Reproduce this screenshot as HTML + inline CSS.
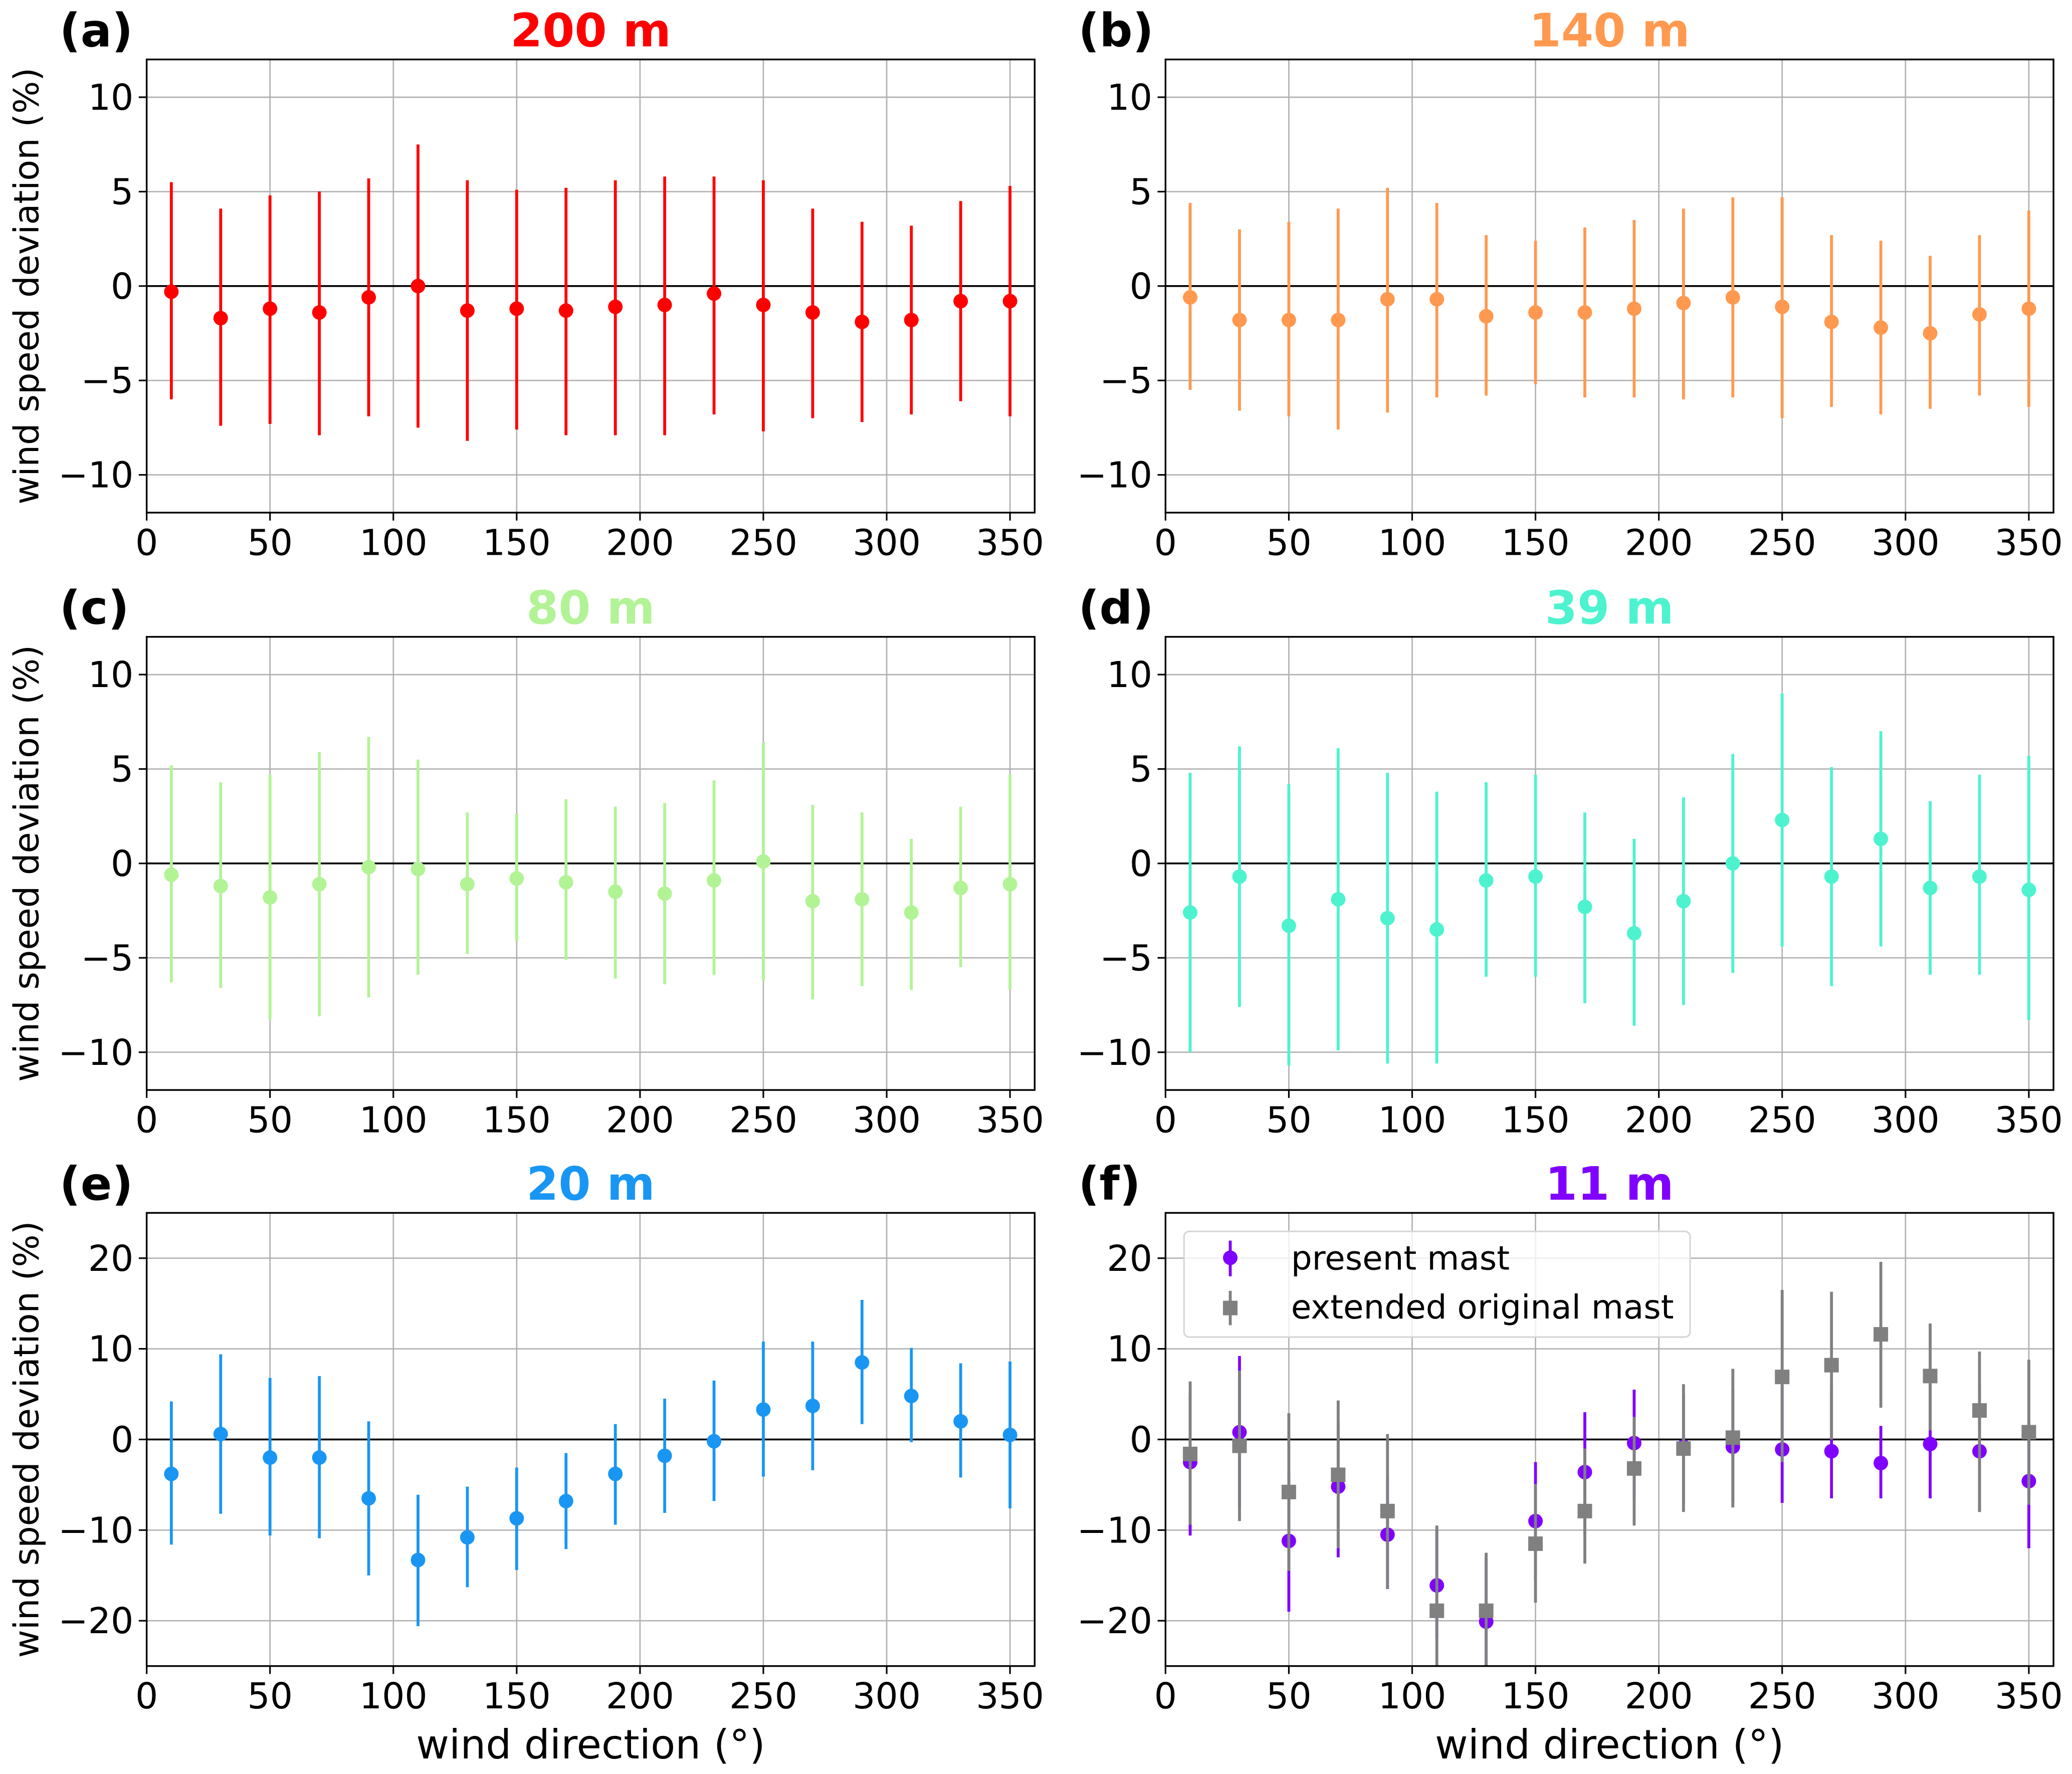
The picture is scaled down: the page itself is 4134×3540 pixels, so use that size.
<!DOCTYPE html>
<html><head><meta charset="utf-8"><style>
html,body{margin:0;padding:0;background:#fff}
svg{display:block}
text{font-family:"DejaVu Sans","Liberation Sans",sans-serif}
</style></head><body>
<svg id="fig" width="4134" height="3540" viewBox="0 0 1568 1342.7" xmlns="http://www.w3.org/2000/svg"></svg>
<script>
const directions=[10,30,50,70,90,110,130,150,170,190,210,230,250,270,290,310,330,350];
const aMid=[-0.3,-1.7,-1.2,-1.4,-0.6,0,-1.3,-1.2,-1.3,-1.1,-1.0,-0.4,-1.0,-1.4,-1.9,-1.8,-0.8,-0.8];
const aUp=[5.5,4.1,4.8,5.0,5.7,7.5,5.6,5.1,5.2,5.6,5.8,5.8,5.6,4.1,3.4,3.2,4.5,5.3];
const aLo=[-6.0,-7.4,-7.3,-7.9,-6.9,-7.5,-8.2,-7.6,-7.9,-7.9,-7.9,-6.8,-7.7,-7.0,-7.2,-6.8,-6.1,-6.9];
const bMid=[-0.6,-1.8,-1.8,-1.8,-0.7,-0.7,-1.6,-1.4,-1.4,-1.2,-0.9,-0.6,-1.1,-1.9,-2.2,-2.5,-1.5,-1.2];
const bUp=[4.4,3.0,3.4,4.1,5.2,4.4,2.7,2.4,3.1,3.5,4.1,4.7,4.7,2.7,2.4,1.6,2.7,4.0];
const bLo=[-5.5,-6.6,-6.9,-7.6,-6.7,-5.9,-5.8,-5.2,-5.9,-5.9,-6.0,-5.9,-7.0,-6.4,-6.8,-6.5,-5.8,-6.4];
const cMid=[-0.6,-1.2,-1.8,-1.1,-0.2,-0.3,-1.1,-0.8,-1.0,-1.5,-1.6,-0.9,0.1,-2.0,-1.9,-2.6,-1.3,-1.1];
const cUp=[5.2,4.3,4.7,5.9,6.7,5.5,2.7,2.6,3.4,3.0,3.2,4.4,6.4,3.1,2.7,1.3,3.0,4.7];
const cLo=[-6.3,-6.6,-8.3,-8.1,-7.1,-5.9,-4.8,-4.1,-5.1,-6.1,-6.4,-5.9,-6.2,-7.2,-6.5,-6.7,-5.5,-6.7];
const dMid=[-2.6,-0.7,-3.3,-1.9,-2.9,-3.5,-0.9,-0.7,-2.3,-3.7,-2.0,0.0,2.3,-0.7,1.3,-1.3,-0.7,-1.4];
const dUp=[4.8,6.2,4.2,6.1,4.8,3.8,4.3,4.7,2.7,1.3,3.5,5.8,9.0,5.1,7.0,3.3,4.7,5.7];
const dLo=[-10.0,-7.6,-10.7,-9.9,-10.6,-10.6,-6.0,-6.0,-7.4,-8.6,-7.5,-5.8,-4.4,-6.5,-4.4,-5.9,-5.9,-8.3];
const eMid=[-3.8,0.6,-2.0,-2.0,-6.5,-13.3,-10.8,-8.7,-6.8,-3.8,-1.8,-0.2,3.3,3.7,8.5,4.8,2.0,0.5];
const eUp=[4.2,9.4,6.8,7.0,2.0,-6.1,-5.2,-3.1,-1.5,1.7,4.5,6.5,10.8,10.8,15.4,10.1,8.4,8.6];
const eLo=[-11.6,-8.2,-10.6,-10.9,-15.0,-20.6,-16.3,-14.4,-12.1,-9.4,-8.1,-6.8,-4.1,-3.4,1.7,-0.3,-4.2,-7.6];
const fMid=[-2.5,0.8,-11.2,-5.2,-10.5,-16.1,-20.1,-9.0,-3.6,-0.4,-0.8,-0.8,-1.1,-1.3,-2.6,-0.5,-1.3,-4.6];
const fUp=[5.0,9.2,-3.5,2.0,-4.0,-10.0,-13.0,-2.5,3.0,5.5,5.0,5.5,6.0,6.0,1.5,6.0,6.0,2.0];
const fLo=[-10.6,-7.5,-19.0,-13.0,-16.5,-22.0,-26.0,-15.5,-10.5,-6.5,-7.0,-7.0,-7.0,-6.5,-6.5,-6.5,-8.0,-12.0];
const gMid=[-1.6,-0.7,-5.8,-3.9,-7.9,-18.9,-18.9,-11.5,-7.9,-3.2,-1.0,0.2,6.9,8.2,11.6,7.0,3.2,0.8];
const gUp=[6.4,7.6,2.9,4.3,0.6,-9.5,-12.5,-4.9,-1.0,2.5,6.1,7.8,16.5,16.3,19.6,12.8,9.7,8.8];
const gLo=[-9.4,-9.0,-14.5,-12.0,-16.5,-27,-27,-18.0,-13.7,-9.5,-8.0,-7.5,-2.5,0,3.5,1.0,-8.0,-7.2];
const xTicks=[0,50,100,150,200,250,300,350];
const yTicksSmall=[-10,-5,0,5,10];
const yTicksLarge=[-20,-10,0,10,20];

const NS="http://www.w3.org/2000/svg";
const svg=document.getElementById('fig');
function mk(tag,attrs,parent){const e=document.createElementNS(NS,tag);for(const k in attrs)e.setAttribute(k,attrs[k]);(parent||svg).appendChild(e);return e;}

const panels=[
 {id:'a',title:'200 m',color:'#ff0000',L:111,T:45,ylim:[-12,12],yt:yTicksSmall,series:[[aMid,aUp,aLo,'#ff0000','circle']]},
 {id:'b',title:'140 m',color:'#ff9950',L:882,T:45,ylim:[-12,12],yt:yTicksSmall,series:[[bMid,bUp,bLo,'#ff9950','circle']]},
 {id:'c',title:'80 m',color:'#b2f396',L:111,T:482,ylim:[-12,12],yt:yTicksSmall,series:[[cMid,cUp,cLo,'#b2f396','circle']]},
 {id:'d',title:'39 m',color:'#4df3ce',L:882,T:482,ylim:[-12,12],yt:yTicksSmall,series:[[dMid,dUp,dLo,'#4df3ce','circle']]},
 {id:'e',title:'20 m',color:'#1996f3',L:111,T:918,ylim:[-25,25],yt:yTicksLarge,series:[[eMid,eUp,eLo,'#1996f3','circle']],xlab:true},
 {id:'f',title:'11 m',color:'#8000ff',L:882,T:918,ylim:[-25,25],yt:yTicksLarge,series:[[fMid,fUp,fLo,'#8000ff','circle'],[gMid,gUp,gLo,'#808080','square']],xlab:true,legend:true}
];
const W=672,H=343;
panels.forEach(p=>{
  const g=mk('g',{});
  
  
  const X=v=>p.L+(v/360)*W;
  const Y=v=>p.T+H-(v-p.ylim[0])/(p.ylim[1]-p.ylim[0])*H;
  const clipId='clip'+p.id;
  const cp=mk('clipPath',{id:clipId},g);mk('rect',{x:p.L,y:p.T,width:W,height:H},cp);
  xTicks.forEach(t=>{const l=mk('line',{x1:X(t),x2:X(t),y1:p.T,y2:p.T+H,stroke:'#b0b0b0','stroke-width':1},g);});
  p.yt.forEach(t=>{const l=mk('line',{x1:p.L,x2:p.L+W,y1:Y(t),y2:Y(t),stroke:'#b0b0b0','stroke-width':1},g);});
  const z=mk('line',{x1:p.L,x2:p.L+W,y1:Y(0),y2:Y(0),stroke:'#000','stroke-width':1.4},g);
  
  p.series.forEach((s,si)=>{
    const sg=mk('g',{'clip-path':'url(#'+clipId+')'},g);
    
    
    directions.forEach((d,i)=>{
      const eb=mk('line',{x1:X(d),x2:X(d),y1:Y(s[1][i]),y2:Y(s[2][i]),stroke:s[3],'stroke-width':2.2},sg);
      
      let m;
      if(s[4]==='circle'){m=mk('circle',{cx:X(d),cy:Y(s[0][i]),r:5.5,fill:s[3]},sg);}
      else{m=mk('rect',{x:X(d)-5.5,y:Y(s[0][i])-5.5,width:11,height:11,fill:s[3]},sg);}
      
    });
  });
  const fr=mk('rect',{x:p.L,y:p.T,width:W,height:H,fill:'none',stroke:'#000','stroke-width':1.3},g);
  
  xTicks.forEach(t=>{
    mk('line',{x1:X(t),x2:X(t),y1:p.T+H,y2:p.T+H+6,stroke:'#000','stroke-width':1.2},g);
    const tx=mk('text',{x:X(t),y:p.T+H+32,'font-size':27,'text-anchor':'middle'},g);tx.textContent=t;
    
  });
  p.yt.forEach(t=>{
    mk('line',{x1:p.L-6,x2:p.L,y1:Y(t),y2:Y(t),stroke:'#000','stroke-width':1.2},g);
    const tx=mk('text',{x:p.L-10,y:Y(t)+9.5,'font-size':27,'text-anchor':'end'},g);tx.textContent=(t<0?'\u2212'+(-t):t);
    
  });
  const tt=mk('text',{x:p.L+W/2,y:p.T-10,'font-size':35,'font-weight':'bold','text-anchor':'middle',fill:p.color},g);tt.textContent=p.title;
  
  const lb=mk('text',{x:p.L-66,y:p.T-10,'font-size':35,'font-weight':'bold'},g);lb.textContent='('+p.id+')';
  
  if(p.L<500){
    const yl=mk('text',{x:0,y:0,'font-size':26,'text-anchor':'middle',transform:'translate(29,'+(p.T+H/2)+') rotate(-90)'},g);yl.textContent='wind speed deviation (%)';
    
  }
  if(p.xlab){
    const xl=mk('text',{x:p.L+W/2,y:1331,'font-size':30.5,'text-anchor':'middle'},g);xl.textContent='wind direction (\u00b0)';
    
  }
  if(p.legend){
    const lg=mk('g',{},g);
    mk('rect',{x:896,y:932,width:383,height:80,rx:4,fill:'#fff','fill-opacity':0.8,stroke:'#d6d6d6','stroke-width':1.2},lg);
    mk('line',{x1:931,x2:931,y1:939,y2:966,stroke:'#8000ff','stroke-width':2.2},lg);
    mk('circle',{cx:931,cy:952,r:5.5,fill:'#8000ff'},lg);
    const t1=mk('text',{x:977,y:961,'font-size':25},lg);t1.textContent='present mast';
    
    mk('line',{x1:931,x2:931,y1:977,y2:1003,stroke:'#808080','stroke-width':2.2},lg);
    mk('rect',{x:925.5,y:984.5,width:11,height:11,fill:'#808080'},lg);
    const t2=mk('text',{x:977,y:998,'font-size':25},lg);t2.textContent='extended original mast';
    
  }
});
</script>
</body></html>
